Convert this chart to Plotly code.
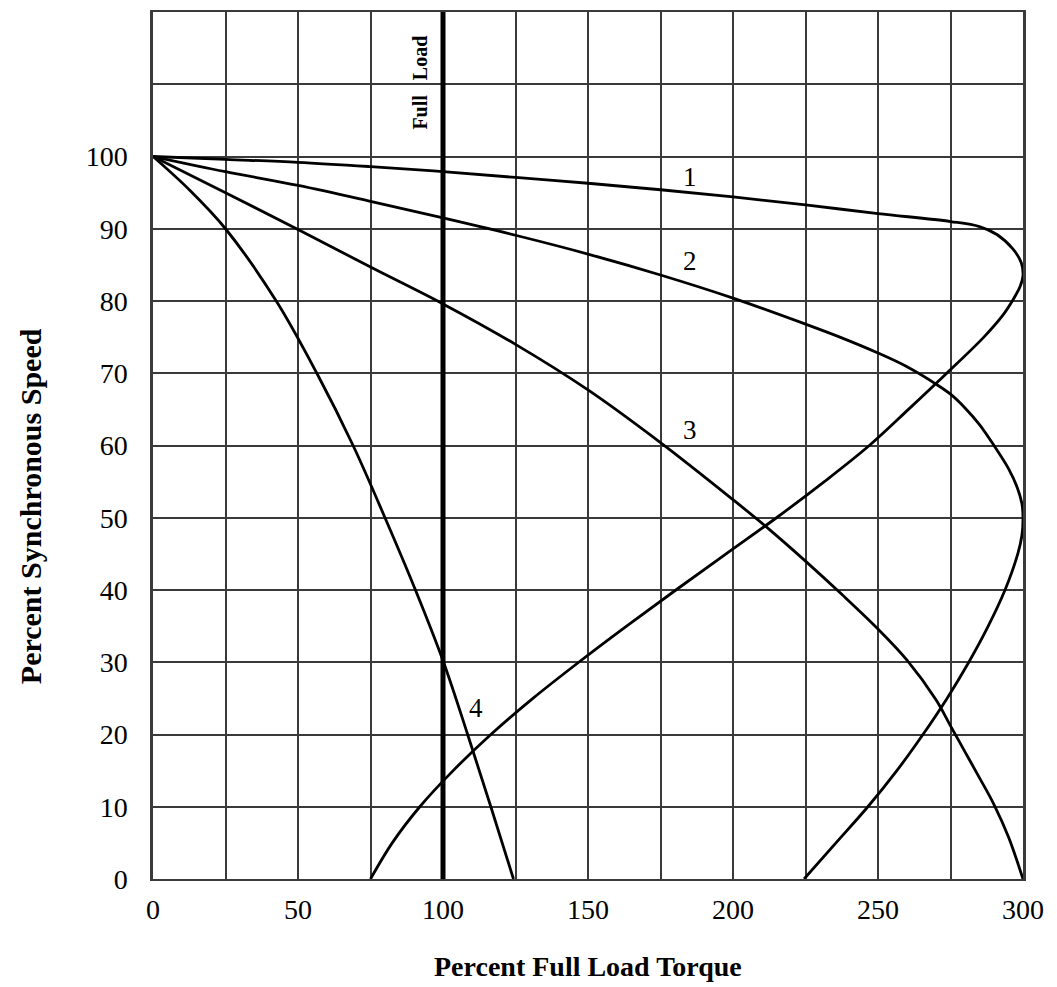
import plotly.graph_objects as go

# ---- data ----
c1_x = [0, 25, 50, 75, 100, 125, 150, 175, 200, 225, 250, 275, 285, 291, 296.5, 299.4, 300,
        299, 296.3, 293, 286.5, 273.7, 260.5, 247, 231.5, 215, 197.6, 180.3, 163.3, 146.8, 131, 116.5, 103.5, 92, 82.5, 75]
c1_y = [100, 99.6, 99.2, 98.6, 97.9, 97.1, 96.3, 95.4, 94.4, 93.3, 92.1, 91.0, 90.3, 89.2, 87.2, 85.3, 83.5,
        82, 80, 78, 75, 70, 65, 60, 55, 50, 45, 40, 35, 30, 25, 20, 15, 10, 5, 0]

c2_x = [0, 25, 50, 75, 100, 125, 150, 175, 200, 225, 237.5, 250, 260, 270, 275, 280, 285, 290, 295, 298, 299.6, 300,
        299.6, 298.2, 293.8, 288, 281.3, 273.8, 265.5, 256.5, 246.5, 235.5, 224.5]
c2_y = [100, 97.9, 96, 93.8, 91.5, 89.1, 86.5, 83.6, 80.4, 76.8, 74.9, 72.8, 70.9, 68.5, 67.1, 65.2, 62.9, 60, 56.8, 54.2, 52, 50,
        47.5, 45, 40, 35, 30, 25, 20, 15, 10, 5, 0]

c3_x = [0, 25, 50, 75, 100, 125, 150, 175, 200, 212.5, 225, 237.5, 250, 260, 270, 275, 280, 285, 290, 295, 300]
c3_y = [100, 95, 89.9, 84.7, 79.6, 74, 67.7, 60.4, 52.5, 48.4, 44, 39.4, 34.6, 30.3, 24.8, 21.2, 17.6, 14, 10.3, 5.8, 0]

c4_x = [0, 12.5, 25, 42.5, 56.5, 69, 80, 90.5, 100.2, 108.5, 116.5, 124.3]
c4_y = [100, 95.4, 90, 80, 70, 60, 50, 40, 30, 20, 10, 0]

full_load_x = [100, 100]
full_load_y = [0, 120]

label_text = ["1", "2", "3", "4"]
label_x = [185, 185, 185, 111.4]
label_y = [97.1, 85.6, 62.2, 23.7]

x_ticks = list(range(0, 301, 25))
x_ticktext = [str(v) if v % 50 == 0 else "" for v in x_ticks]
y_ticks = list(range(0, 121, 10))
y_ticktext = [str(v) if v <= 100 else "" for v in y_ticks]

SERIF = "Liberation Serif, Times New Roman, serif"

fig = go.Figure()
for xs, ys in [(c1_x, c1_y), (c2_x, c2_y), (c3_x, c3_y), (c4_x, c4_y)]:
    fig.add_trace(go.Scatter(x=xs, y=ys, mode="lines",
                             line=dict(color="black", width=2.8, shape="spline", smoothing=1.0),
                             showlegend=False, hoverinfo="skip"))
fig.add_trace(go.Scatter(x=full_load_x, y=full_load_y, mode="lines",
                         line=dict(color="black", width=5), showlegend=False, hoverinfo="skip"))

for t, x, y in zip(label_text, label_x, label_y):
    fig.add_annotation(x=x, y=y, text=t, showarrow=False,
                       font=dict(family=SERIF, size=27, color="black"))

fig.add_annotation(x=92, y=110.2, text="<b>Full\u00a0\u00a0\u00a0Load</b>", textangle=-90,
                   showarrow=False, font=dict(family=SERIF, size=20, color="black"))

fig.add_annotation(xref="paper", yref="paper", x=0.5, y=-0.1013, xanchor="center", yanchor="middle",
                   text="<b>Percent Full Load Torque</b>",
                   showarrow=False, font=dict(family=SERIF, size=28, color="black"))
fig.add_annotation(xref="paper", yref="paper", x=-0.1414, y=0.43, xanchor="center", yanchor="middle",
                   text="<b>Percent Synchronous Speed</b>",
                   textangle=-90, showarrow=False, font=dict(family=SERIF, size=30, color="black"))

fig.update_xaxes(range=[0, 300], tickvals=x_ticks, ticktext=x_ticktext,
                 showgrid=True, gridcolor="#3a3a3a", gridwidth=1.8,
                 showline=True, mirror=True, linecolor="#3a3a3a", linewidth=2,
                 ticks="outside", ticklen=4, tickcolor="rgba(0,0,0,0)",
                 tickfont=dict(family=SERIF, size=28, color="black"), zeroline=False)
fig.update_yaxes(range=[0, 120], tickvals=y_ticks, ticktext=y_ticktext,
                 showgrid=True, gridcolor="#3a3a3a", gridwidth=1.8,
                 showline=True, mirror=True, linecolor="#3a3a3a", linewidth=2.5,
                 ticks="outside", ticklen=17, tickcolor="rgba(0,0,0,0)",
                 tickfont=dict(family=SERIF, size=28, color="black"), zeroline=False)

fig.update_layout(width=1049, height=979, margin=dict(l=145, r=34, t=2, b=108),
                  plot_bgcolor="white", paper_bgcolor="white")

fig.write_html("out.html")
